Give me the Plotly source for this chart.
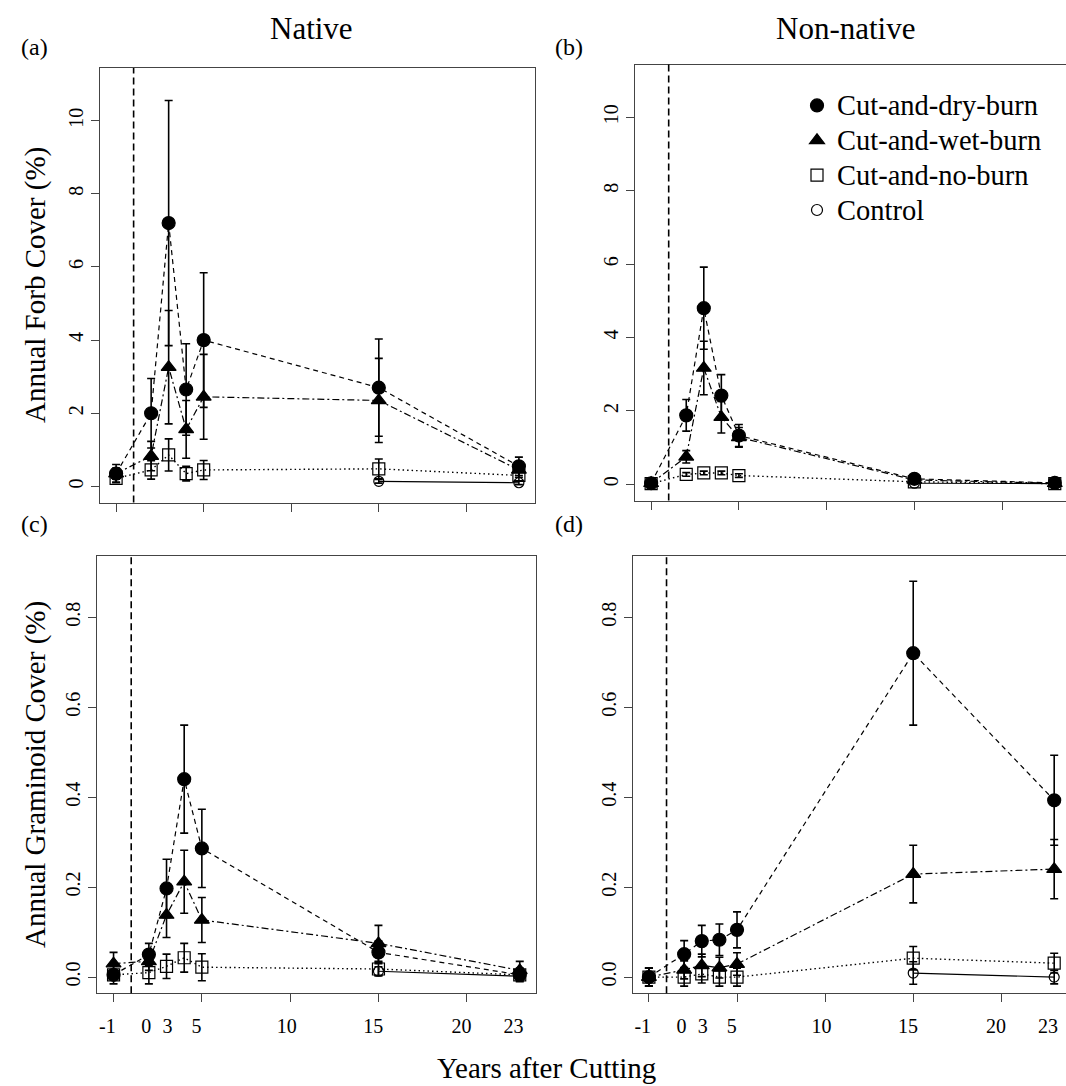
import plotly.graph_objects as go

W, H = 1066, 1086
FONT = "Liberation Serif"

# ---------------- data ----------------
# plotted x positions of the sampling years (-1, 0, 3, 4, 5, 15, 23 years after cutting)
X_YEARS = [0, 2, 3, 4, 5, 15, 23]
X_CONTROL = [15, 23]
TICK_MARKS = [0, 5, 10, 15, 20]
TICK_LABEL_POS = [-0.35, 1.85, 3.05, 4.7, 9.8, 14.7, 19.7, 22.65]
TICK_LABELS = ["-1", "0", "3", "5", "10", "15", "20", "23"]
CUT_LINE_X = 1

SERIES = ["Cut-and-dry-burn", "Cut-and-wet-burn", "Cut-and-no-burn", "Control"]

# (a) Native annual forb cover (%)
dry_a = [0.35, 2.0, 7.2, 2.65, 4.0, 2.7, 0.55]
dry_a_se = [0.25, 0.95, 3.35, 1.25, 1.84, 1.33, 0.25]
wet_a = [0.35, 0.83, 3.26, 1.56, 2.45, 2.35, 0.45]
wet_a_se = [0.15, 0.4, 1.55, 0.79, 1.16, 1.15, 0.2]
noburn_a = [0.22, 0.45, 0.86, 0.35, 0.45, 0.48, 0.3]
noburn_a_se = [0.1, 0.25, 0.44, 0.2, 0.26, 0.27, 0.15]
control_a = [0.14, 0.1]
control_a_se = [0.05, 0.05]

# (b) Non-native annual forb cover (%)
dry_b = [0.03, 1.88, 4.8, 2.42, 1.33, 0.15, 0.04]
dry_b_se = [0.03, 0.43, 1.12, 0.57, 0.3, 0.05, 0.03]
wet_b = [0.03, 0.75, 3.17, 1.83, 1.28, 0.12, 0.03]
wet_b_se = [0.03, 0.17, 0.73, 0.43, 0.27, 0.04, 0.02]
noburn_b = [0.02, 0.27, 0.31, 0.31, 0.24, 0.07, 0.02]
noburn_b_se = [0.02, 0.05, 0.05, 0.05, 0.05, 0.03, 0.02]
control_b = [0.03, 0.02]
control_b_se = [0.02, 0.02]

# (c) Native annual graminoid cover (%)
dry_c = [0.005, 0.05, 0.197, 0.44, 0.286, 0.055, 0.005]
dry_c_se = [0.01, 0.025, 0.065, 0.12, 0.087, 0.025, 0.01]
wet_c = [0.03, 0.035, 0.138, 0.212, 0.127, 0.075, 0.015]
wet_c_se = [0.025, 0.02, 0.05, 0.07, 0.05, 0.04, 0.02]
noburn_c = [0.005, 0.01, 0.024, 0.043, 0.022, 0.018, 0.005]
noburn_c_se = [0.02, 0.025, 0.027, 0.032, 0.03, 0.015, 0.015]
control_c = [0.013, 0.002]
control_c_se = [0.01, 0.01]

# (d) Non-native annual graminoid cover (%)
dry_d = [0.0, 0.051, 0.08, 0.083, 0.105, 0.72, 0.393]
dry_d_se = [0.02, 0.03, 0.035, 0.035, 0.04, 0.16, 0.1]
wet_d = [0.0, 0.016, 0.026, 0.021, 0.029, 0.229, 0.24]
wet_d_se = [0.02, 0.02, 0.025, 0.023, 0.025, 0.064, 0.066]
noburn_d = [0.0, 0.0, 0.007, 0.0, 0.0, 0.042, 0.031]
noburn_d_se = [0.02, 0.02, 0.02, 0.02, 0.02, 0.026, 0.022]
control_d = [0.009, 0.0]
control_d_se = [0.025, 0.015]

# ---------------- styles ----------------
STYLE = {
    "Cut-and-dry-burn": dict(symbol="circle", size=13, dash="5px,4px", lw=1.2),
    "Cut-and-wet-burn": dict(symbol="triangle-up", size=13, dash="7px,3px,2px,3px", lw=1.2),
    "Cut-and-no-burn": dict(symbol="square-open", size=12, dash="1.5px,3px", lw=1.4),
    "Control": dict(symbol="circle-open", size=10, dash="solid", lw=1.2),
}


def px(x):
    return x / W


def py(y):
    return 1 - y / H


fig = go.Figure()

panels = [
    ("x", "y", [(dry_a, dry_a_se), (wet_a, wet_a_se), (noburn_a, noburn_a_se), (control_a, control_a_se)]),
    ("x2", "y2", [(dry_b, dry_b_se), (wet_b, wet_b_se), (noburn_b, noburn_b_se), (control_b, control_b_se)]),
    ("x3", "y3", [(dry_c, dry_c_se), (wet_c, wet_c_se), (noburn_c, noburn_c_se), (control_c, control_c_se)]),
    ("x4", "y4", [(dry_d, dry_d_se), (wet_d, wet_d_se), (noburn_d, noburn_d_se), (control_d, control_d_se)]),
]

for xa, ya, data in panels:
    for name, (vals, se) in zip(SERIES, data):
        st = STYLE[name]
        xs = X_CONTROL if name == "Control" else X_YEARS
        fig.add_trace(go.Scatter(
            x=xs, y=vals, xaxis=xa, yaxis=ya, mode="lines+markers", showlegend=False,
            line=dict(color="black", width=st["lw"], dash=st["dash"]),
            marker=dict(symbol=st["symbol"], size=st["size"], color="black",
                        line=dict(color="black", width=1.2)),
            error_y=dict(type="data", array=se, visible=True, color="black",
                         thickness=1.6, width=4),
            cliponaxis=False,
        ))

# legend-only entries
for name in SERIES:
    st = STYLE[name]
    fig.add_trace(go.Scatter(
        x=[None], y=[None], xaxis="x2", yaxis="y2", mode="markers",
        name='<span style="font-size:28.5px">' + name + "</span>",
        marker=dict(symbol=st["symbol"], size=st["size"] if name != "Control" else 11,
                    color="black", line=dict(color="black", width=1.2)),
    ))

# vertical dashed line marking the cut
for xa, ya in [("x", "y"), ("x2", "y2"), ("x3", "y3"), ("x4", "y4")]:
    fig.add_shape(type="line", xref=xa, yref=ya + " domain", x0=CUT_LINE_X, x1=CUT_LINE_X,
                  y0=0, y1=1, line=dict(color="black", width=1.6, dash="7px,4px"))

LINE = "#444"
tickfont = dict(family=FONT, size=20, color="black")
base_x = dict(showgrid=False, zeroline=False, showline=True, linecolor=LINE, linewidth=1,
              ticks="outside", ticklen=8, tickcolor=LINE, tickwidth=1, tickfont=tickfont,
              tickmode="array")
base_y = dict(showgrid=False, zeroline=False, showline=True, linecolor=LINE, linewidth=1,
              ticks="outside", ticklen=8, tickcolor=LINE, tickwidth=1, tickfont=tickfont,
              tickmode="array", tickangle=-90)

dom_a = [px(100), px(535)]
dom_b = [px(635), 1.0]
dom_c = [px(97.3), px(536)]
dom_d = [px(632.7), 1.0]

fig.update_layout(
    xaxis=dict(base_x, domain=dom_a, anchor="y", range=[-0.92, 23.92], tickvals=TICK_MARKS,
               showticklabels=False, mirror=True),
    xaxis2=dict(base_x, domain=dom_b, anchor="y2", range=[-0.92, 23.64], tickvals=TICK_MARKS,
                showticklabels=False, mirror=True),
    xaxis3=dict(base_x, domain=dom_c, anchor="y3", range=[-0.92, 23.92], tickvals=TICK_LABEL_POS,
                ticktext=TICK_LABELS, ticks="", mirror=True, ticklabelstandoff=15),
    xaxis4=dict(base_x, domain=dom_d, anchor="y4", range=[-0.92, 23.67], tickvals=TICK_LABEL_POS,
                ticktext=TICK_LABELS, ticks="", mirror=True, ticklabelstandoff=15),
    xaxis5=dict(base_x, domain=dom_c, anchor="y3", overlaying="x3", range=[-0.92, 23.92],
                tickvals=TICK_MARKS, showticklabels=False, showline=False),
    xaxis6=dict(base_x, domain=dom_d, anchor="y4", overlaying="x4", range=[-0.92, 23.67],
                tickvals=TICK_MARKS, showticklabels=False, showline=False),
    yaxis=dict(base_y, domain=[py(502.5), py(68)], anchor="x", range=[-0.44, 11.44],
               tickvals=[0, 2, 4, 6, 8, 10], mirror=True),
    yaxis2=dict(base_y, domain=[py(500.5), py(64.5)], anchor="x2", range=[-0.44, 11.44],
                tickvals=[0, 2, 4, 6, 8, 10], mirror=False),
    yaxis3=dict(base_y, domain=[py(993.3), py(556)], anchor="x3", range=[-0.036, 0.936],
                tickvals=[0, 0.2, 0.4, 0.6, 0.8], ticktext=["0.0", "0.2", "0.4", "0.6", "0.8"],
                mirror=True),
    yaxis4=dict(base_y, domain=[py(993.3), py(556)], anchor="x4", range=[-0.036, 0.936],
                tickvals=[0, 0.2, 0.4, 0.6, 0.8], ticktext=["0.0", "0.2", "0.4", "0.6", "0.8"],
                mirror=False),
)

# invisible traces on the tick-only overlay axes so they render
fig.add_trace(go.Scatter(x=[None], y=[None], xaxis="x5", yaxis="y3", showlegend=False, hoverinfo="skip"))
fig.add_trace(go.Scatter(x=[None], y=[None], xaxis="x6", yaxis="y4", showlegend=False, hoverinfo="skip"))

ann = []


def add_text(text, x, y, size, angle=0):
    ann.append(dict(text=text, x=px(x), y=py(y), xref="paper", yref="paper", showarrow=False,
                    xanchor="center", yanchor="middle", textangle=angle,
                    font=dict(family=FONT, size=size, color="black")))


add_text("Native", 311, 28, 31)
add_text("Non-native", 845, 28, 31)
add_text("(a)", 34, 47, 24)
add_text("(b)", 569, 47, 24)
add_text("(c)", 34, 524, 24)
add_text("(d)", 569, 524, 24)
add_text("Annual Forb Cover (%)", 35, 285, 29, -90)
add_text("Annual Graminoid Cover (%)", 35, 775, 29, -90)
add_text("Years after Cutting", 546, 1068, 29)

fig.update_layout(
    annotations=ann,
    font=dict(family=FONT, color="black"),
    width=W, height=H, autosize=False,
    margin=dict(l=0, r=0, t=0, b=0),
    paper_bgcolor="white", plot_bgcolor="white",
    showlegend=True,
    legend=dict(x=px(797), y=py(83), xanchor="left", yanchor="top",
                bgcolor="rgba(0,0,0,0)", font=dict(family=FONT, size=24.5, color="black"),
                itemsizing="trace", tracegroupgap=0),
)

fig.write_html("out.html", config={"displayModeBar": False},
               post_script="document.body.style.margin='0px';document.body.style.overflow='hidden';")
